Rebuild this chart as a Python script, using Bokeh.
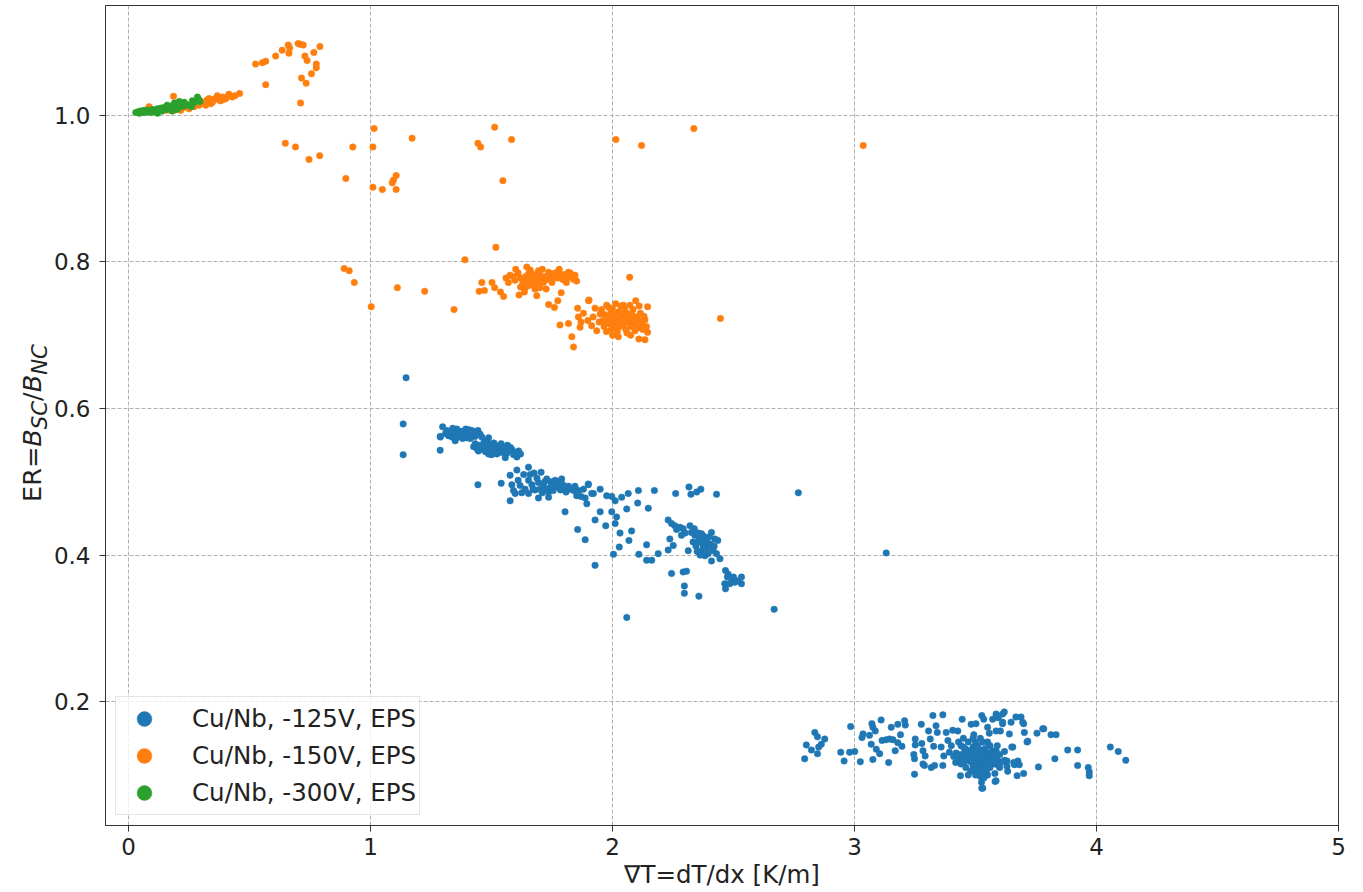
from bokeh.plotting import figure
from bokeh.models import Range1d, Legend, LegendItem, FixedTicker, PrintfTickFormatter, ColumnDataSource, Div
from bokeh.layouts import row
from bokeh.embed import file_html
from bokeh.resources import INLINE

series_labels = ["Cu/Nb, -125V, EPS", "Cu/Nb, -150V, EPS", "Cu/Nb, -300V, EPS"]
series_colors = ["#1f77b4", "#ff7f0e", "#2ca02c"]
x_ticks = [0, 1, 2, 3, 4, 5]
y_ticks = [0.2, 0.4, 0.6, 0.8, 1.0]
x_label = "\u2207T=dT/dx [K/m]"
y_label_html = "ER=<i>B</i><sub><i>SC</i></sub>/<i>B</i><sub><i>NC</i></sub>"

blue_points = [
    # sparse / outliers
    (1.147,0.642),(1.135,0.579),(1.135,0.537),(1.288,0.562),(1.288,0.543),(1.444,0.496),(1.540,0.498),(1.577,0.474),
    (2.768,0.485),(3.131,0.403),(2.668,0.326),(2.059,0.315),(1.928,0.386),(2.004,0.401),(2.109,0.401),(2.141,0.393),
    (2.162,0.393),(2.189,0.402),(2.244,0.375),(2.292,0.377),(2.306,0.378),(2.297,0.358),(2.297,0.348),(2.357,0.344),
    (1.887,0.421),(1.856,0.435),(1.928,0.448),(1.972,0.440),(2.031,0.430),(2.028,0.411),(2.068,0.420),(2.079,0.433),
    (2.141,0.414),(2.261,0.484),(2.316,0.493),(2.324,0.483),(2.365,0.490),(2.430,0.483),(2.173,0.488),(2.107,0.488),
    (2.065,0.484),(2.104,0.471),(2.148,0.464),(2.059,0.463),(1.997,0.459),(1.949,0.459),(1.894,0.470),(1.804,0.459),
    (1.900,0.496),(1.949,0.490),(1.921,0.484),(1.997,0.480),(2.011,0.474),(2.038,0.479),(2.017,0.452),(2.011,0.443),
    (2.348,0.486),
    # cluster ~0.565
    (1.298,0.575),(1.289,0.561),(1.316,0.570),(1.330,0.565),(1.344,0.568),(1.350,0.556),(1.357,0.572),(1.371,0.563),
    (1.378,0.569),(1.394,0.572),(1.403,0.565),(1.412,0.559),(1.419,0.570),(1.444,0.570),(1.453,0.565),(1.488,0.560),
    (1.337,0.561),(1.364,0.561),(1.322,0.563),(1.340,0.573),(1.385,0.566),(1.398,0.560),(1.425,0.566),(1.432,0.562),
    (1.310,0.566),(1.352,0.566),(1.368,0.568),(1.407,0.571),(1.438,0.568),(1.460,0.561),(1.470,0.556),(1.381,0.559),
    # cluster ~0.545
    (1.426,0.548),(1.440,0.545),(1.453,0.550),(1.467,0.544),(1.481,0.547),(1.491,0.552),(1.502,0.544),(1.515,0.550),
    (1.529,0.545),(1.543,0.540),(1.557,0.546),(1.571,0.543),(1.584,0.544),(1.598,0.540),(1.612,0.542),(1.605,0.534),
    (1.557,0.533),(1.522,0.538),(1.488,0.538),(1.446,0.542),(1.433,0.552),(1.460,0.548),(1.474,0.550),(1.495,0.546),
    (1.508,0.541),(1.536,0.548),(1.550,0.541),(1.564,0.539),(1.578,0.547),(1.591,0.537),(1.620,0.538),(1.475,0.541),
    (1.510,0.553),(1.540,0.552),(1.566,0.550),(1.500,0.537),
    # cluster ~0.49
    (1.577,0.509),(1.605,0.516),(1.653,0.520),(1.584,0.496),(1.591,0.488),(1.618,0.495),(1.639,0.490),(1.653,0.502),
    (1.667,0.496),(1.680,0.489),(1.694,0.499),(1.705,0.513),(1.715,0.494),(1.728,0.504),(1.736,0.486),(1.749,0.496),
    (1.763,0.502),(1.777,0.493),(1.790,0.504),(1.801,0.490),(1.818,0.494),(1.839,0.488),(1.736,0.479),(1.694,0.478),
    (1.653,0.484),(1.880,0.490),(1.900,0.497),(1.914,0.484),(1.887,0.478),(1.852,0.481),(1.976,0.481),(1.610,0.502),
    (1.625,0.485),(1.660,0.510),(1.672,0.490),(1.688,0.505),(1.700,0.490),(1.720,0.500),(1.742,0.492),(1.755,0.488),
    (1.770,0.498),(1.785,0.489),(1.795,0.496),(1.808,0.486),(1.825,0.490),(1.845,0.494),(1.860,0.488),(1.745,0.500),
    (1.710,0.485),(1.676,0.512),(1.598,0.484),(1.633,0.510),(1.724,0.490),(1.758,0.495),(1.781,0.500),(1.870,0.480),
    # cluster ~0.42
    (2.230,0.448),(2.244,0.443),(2.258,0.440),(2.279,0.438),(2.292,0.436),(2.320,0.440),(2.285,0.427),(2.326,0.431),
    (2.340,0.427),(2.368,0.429),(2.382,0.424),(2.409,0.431),(2.423,0.422),(2.354,0.418),(2.375,0.413),(2.396,0.411),
    (2.416,0.406),(2.368,0.406),(2.382,0.399),(2.409,0.392),(2.430,0.402),(2.444,0.395),(2.333,0.418),(2.313,0.406),
    (2.237,0.422),(2.230,0.407),(2.251,0.413),(2.360,0.422),(2.390,0.418),(2.400,0.425),(2.345,0.412),(2.370,0.420),
    (2.385,0.408),(2.405,0.415),(2.355,0.430),(2.375,0.426),(2.395,0.402),(2.420,0.412),(2.300,0.430),(2.265,0.435),
    (2.362,0.400),(2.435,0.420),(2.350,0.405),(2.338,0.436),
    # cluster ~0.365
    (2.467,0.379),(2.475,0.370),(2.464,0.361),(2.492,0.368),(2.506,0.363),(2.519,0.365),(2.533,0.370),(2.533,0.361),
    (2.467,0.354),(2.485,0.361),(2.478,0.374),(2.500,0.370),
    # low cluster, spread
    (2.794,0.122),(2.801,0.141),(2.822,0.134),(2.836,0.158),(2.847,0.152),(2.852,0.138),(2.847,0.129),(2.863,0.142),
    (2.877,0.149),(2.943,0.131),(2.957,0.119),(2.980,0.131),(3.001,0.132),(2.984,0.166),(3.024,0.118),(3.031,0.151),
    (3.035,0.156),(3.062,0.154),(3.072,0.170),(3.076,0.165),(3.069,0.142),(3.086,0.160),(3.090,0.135),(3.076,0.121),
    (3.104,0.129),(3.110,0.175),(3.114,0.147),(3.131,0.148),(3.141,0.117),(3.145,0.149),(3.152,0.165),(3.159,0.148),
    (3.168,0.133),(3.179,0.144),(3.179,0.169),(3.190,0.155),(3.196,0.139),(3.207,0.174),(3.210,0.168),(3.245,0.128),
    (3.248,0.101),(3.251,0.149),(3.251,0.141),(3.276,0.169),(3.278,0.143),(3.283,0.133),(3.283,0.115),(3.292,0.126),
    (3.306,0.160),(3.313,0.149),(3.317,0.110),(3.324,0.181),(3.327,0.139),(3.337,0.167),(3.342,0.158),(3.358,0.138),
    (3.365,0.182),(3.365,0.113),(3.369,0.126),(3.379,0.158),(3.386,0.147),(3.392,0.131),(3.406,0.161),(3.418,0.117),
    (3.427,0.160),(3.438,0.099),(3.445,0.176),(3.455,0.136),(3.482,0.169),(3.493,0.155),(3.502,0.170),(3.526,0.181),
    (3.526,0.082),(3.534,0.176),(3.550,0.165),(3.557,0.157),(3.571,0.176),(3.585,0.183),(3.585,0.092),(3.594,0.178),
    (3.603,0.160),(3.612,0.172),(3.619,0.186),(3.630,0.119),(3.633,0.105),(3.640,0.156),(3.647,0.172),(3.650,0.138),
    (3.661,0.114),(3.667,0.179),(3.672,0.099),(3.675,0.119),(3.681,0.114),(3.688,0.179),(3.695,0.172),(3.702,0.158),
    (3.713,0.145),(3.754,0.157),(3.760,0.111),(3.782,0.163),(3.812,0.155),(3.833,0.155),(3.828,0.122),(3.881,0.134),
    (3.922,0.134),(3.922,0.113),(3.966,0.110),(3.970,0.104),(3.970,0.099),(4.057,0.138),(4.090,0.132),(4.121,0.120),
    (3.248,0.122),(3.289,0.113),(3.331,0.113),(3.434,0.124),(3.716,0.146),(3.699,0.102),(3.654,0.138),(3.658,0.117),
    (3.581,0.091),(3.530,0.082),(3.612,0.183),(3.589,0.181),(3.699,0.170),(3.612,0.170),(3.585,0.160),(3.778,0.163),
    # low cluster, dense core
    (3.42,0.130),(3.43,0.120),(3.44,0.140),(3.44,0.115),(3.45,0.128),(3.45,0.150),(3.46,0.110),(3.46,0.135),
    (3.47,0.122),(3.47,0.145),(3.48,0.105),(3.48,0.130),(3.48,0.118),(3.49,0.138),(3.49,0.112),(3.49,0.125),
    (3.50,0.100),(3.50,0.132),(3.50,0.120),(3.50,0.145),(3.51,0.115),(3.51,0.127),(3.51,0.108),(3.51,0.140),
    (3.52,0.122),(3.52,0.134),(3.52,0.098),(3.52,0.113),(3.53,0.128),(3.53,0.118),(3.53,0.145),(3.53,0.105),
    (3.54,0.124),(3.54,0.136),(3.54,0.112),(3.55,0.130),(3.55,0.118),(3.55,0.100),(3.56,0.126),(3.56,0.140),
    (3.56,0.110),(3.57,0.122),(3.57,0.133),(3.58,0.115),(3.58,0.128),(3.59,0.120),(3.59,0.140),(3.60,0.110),
    (3.60,0.128),(3.61,0.118),(3.62,0.132),(3.47,0.100),(3.45,0.138),(3.43,0.145),(3.41,0.125),(3.46,0.120),
    (3.49,0.150),(3.52,0.150),(3.55,0.145),(3.58,0.102),(3.505,0.125),(3.515,0.118),(3.525,0.131),(3.535,0.124),
    (3.495,0.119),(3.485,0.127),(3.475,0.133),(3.545,0.118),(3.565,0.117),(3.575,0.125),(3.505,0.138),(3.515,0.103),
    (3.495,0.108),(3.545,0.105),(3.465,0.127),(3.455,0.118),(3.535,0.096),(3.525,0.090),(3.505,0.112),(3.585,0.133),
    (3.595,0.113),(3.44,0.128),(3.62,0.120),(3.63,0.112),(3.40,0.140),
]

orange_points = [
    # band near the origin
    (0.050,1.005),(0.070,1.006),(0.085,1.012),(0.100,1.007),(0.120,1.006),(0.140,1.008),(0.160,1.007),(0.186,1.026),
    (0.189,1.007),(0.200,1.009),(0.216,1.007),(0.230,1.011),(0.243,1.014),(0.250,1.009),(0.260,1.013),(0.271,1.012),
    (0.280,1.016),(0.292,1.014),(0.300,1.019),(0.312,1.018),(0.319,1.014),(0.325,1.021),(0.333,1.023),(0.340,1.016),
    (0.347,1.018),(0.355,1.022),(0.360,1.023),(0.367,1.027),(0.375,1.021),(0.381,1.020),(0.388,1.025),(0.395,1.022),
    (0.402,1.023),(0.410,1.026),(0.415,1.029),(0.429,1.025),(0.440,1.027),(0.459,1.030),(0.220,1.013),(0.270,1.018),
    # arc above 1
    (0.525,1.070),(0.553,1.072),(0.567,1.074),(0.567,1.042),(0.608,1.081),(0.635,1.089),(0.660,1.096),(0.666,1.092),
    (0.663,1.085),(0.701,1.098),(0.711,1.097),(0.722,1.096),(0.729,1.081),(0.738,1.075),(0.766,1.086),(0.791,1.094),
    (0.776,1.070),(0.776,1.065),(0.756,1.057),(0.715,1.051),(0.734,1.044),(0.711,1.017),
    # sparse
    (0.648,0.962),(0.690,0.957),(0.746,0.940),(0.790,0.945),(0.927,0.957),(1.015,0.982),(1.010,0.957),(1.172,0.969),
    (0.898,0.914),(1.010,0.902),(1.049,0.899),(1.090,0.908),(1.106,0.918),(1.106,0.899),(1.095,0.912),(1.444,0.962),
    (1.455,0.957),(1.513,0.984),(1.583,0.967),(1.547,0.911),(2.014,0.967),(2.120,0.959),(2.336,0.982),(3.036,0.959),
    (1.518,0.820),(1.390,0.803),(0.891,0.791),(0.912,0.788),(0.933,0.772),(1.111,0.765),(1.224,0.760),(1.003,0.739),
    (1.345,0.735),(2.071,0.779),(2.446,0.723),
    # cluster ~0.78
    (1.460,0.772),(1.471,0.761),(1.449,0.760),(1.502,0.772),(1.513,0.765),(1.537,0.759),(1.550,0.753),(1.577,0.782),
    (1.570,0.772),(1.597,0.775),(1.614,0.755),(1.636,0.759),(1.646,0.793),(1.653,0.784),(1.667,0.770),(1.680,0.763),
    (1.687,0.754),(1.694,0.788),(1.705,0.777),(1.726,0.763),(1.736,0.786),(1.763,0.779),(1.770,0.786),(1.790,0.782),
    (1.804,0.775),(1.818,0.786),(1.832,0.779),(1.852,0.774),(1.788,0.758),(1.774,0.747),(1.736,0.742),(1.760,0.738),
    (1.590,0.780),(1.610,0.785),(1.620,0.778),(1.630,0.772),(1.640,0.780),(1.650,0.776),(1.660,0.789),(1.665,0.778),
    (1.675,0.783),(1.685,0.776),(1.690,0.770),(1.700,0.782),(1.710,0.790),(1.715,0.772),(1.720,0.780),(1.730,0.776),
    (1.745,0.780),(1.750,0.772),(1.755,0.784),(1.775,0.778),(1.780,0.790),(1.795,0.776),(1.800,0.783),(1.810,0.772),
    (1.815,0.779),(1.825,0.785),(1.840,0.776),(1.845,0.782),(1.620,0.766),(1.655,0.768),(1.600,0.790),(1.560,0.778),
    (1.700,0.765),(1.640,0.765),
    # cluster ~0.72
    (1.783,0.714),(1.818,0.716),(1.832,0.698),(1.839,0.684),(1.856,0.737),(1.859,0.725),(1.866,0.711),(1.901,0.747),
    (1.898,0.720),(1.914,0.713),(1.928,0.737),(1.935,0.706),(1.949,0.729),(1.976,0.741),(2.013,0.743),(2.045,0.741),
    (2.072,0.741),(2.096,0.747),(2.145,0.739),(2.134,0.721),(2.145,0.704),(2.134,0.694),(2.109,0.695),(2.093,0.706),
    (2.024,0.698),(1.990,0.706),(1.903,0.748),
    (1.960,0.720),(1.965,0.712),(1.970,0.728),(1.980,0.718),(1.985,0.725),(1.990,0.715),(1.995,0.732),(2.000,0.720),
    (2.005,0.710),(2.010,0.727),(2.015,0.716),(2.020,0.722),(2.025,0.732),(2.030,0.712),(2.035,0.720),(2.040,0.727),
    (2.045,0.715),(2.050,0.722),(2.055,0.708),(2.060,0.730),(2.065,0.718),(2.070,0.724),(2.075,0.712),(2.080,0.728),
    (2.085,0.720),(2.090,0.715),(2.100,0.725),(2.105,0.710),(2.110,0.720),(2.115,0.730),(2.120,0.715),(2.125,0.708),
    (2.130,0.726),(1.955,0.735),(1.975,0.705),(2.000,0.736),(2.050,0.735),(2.085,0.735),(2.060,0.703),(2.020,0.705),
    (1.945,0.718),(1.920,0.725),(1.880,0.730),(2.140,0.712),(2.000,0.700),(2.035,0.740),(1.985,0.738),(2.110,0.740),
    (2.075,0.700),(1.870,0.718),
]

green_points = [
    (0.030,1.004),(0.040,1.005),(0.045,1.003),(0.050,1.006),(0.055,1.004),(0.060,1.005),(0.065,1.007),(0.070,1.004),
    (0.075,1.006),(0.080,1.005),(0.085,1.007),(0.090,1.006),(0.095,1.004),(0.100,1.008),(0.105,1.006),(0.110,1.007),
    (0.115,1.005),(0.120,1.009),(0.125,1.007),(0.130,1.008),(0.135,1.010),(0.140,1.006),(0.145,1.009),(0.150,1.011),
    (0.155,1.008),(0.160,1.010),(0.165,1.012),(0.170,1.009),(0.175,1.011),(0.180,1.013),(0.185,1.010),(0.190,1.012),
    (0.195,1.014),(0.200,1.011),(0.205,1.013),(0.210,1.015),(0.215,1.012),(0.220,1.014),(0.225,1.016),(0.230,1.013),
    (0.240,1.015),(0.250,1.014),(0.260,1.012),(0.264,1.020),(0.270,1.017),(0.280,1.020),(0.285,1.025),(0.290,1.022),
    (0.295,1.019),(0.180,1.006),(0.200,1.008),(0.120,1.003),(0.160,1.014),(0.190,1.017),(0.210,1.019),(0.230,1.018),
]

LABEL_W = 50
p = figure(width=1363 - LABEL_W, height=892,
           x_range=Range1d(-0.095, 5.0), y_range=Range1d(0.031, 1.15),
           output_backend="svg", toolbar_location=None,
           min_border_left=53, min_border_right=25, min_border_top=5, min_border_bottom=67)

renderers = []
for pts, color in zip([blue_points, orange_points, green_points], series_colors):
    src = ColumnDataSource(dict(x=[a for a, b in pts], y=[b for a, b in pts]))
    r = p.scatter("x", "y", source=src, size=6.5, fill_color=color, line_color=color, line_width=0.5)
    renderers.append(r)

legend = Legend(items=[LegendItem(label=l, renderers=[r]) for l, r in zip(series_labels, renderers)],
                location="bottom_left", glyph_width=50, glyph_height=37, label_height=30,
                spacing=0, padding=3, label_standoff=23, margin=10,
                label_text_font="DejaVu Sans", label_text_font_size="24.5px", label_text_color="#222222",
                border_line_color="#cccccc", border_line_width=1, background_fill_alpha=0.8)
p.add_layout(legend)

p.xaxis.ticker = FixedTicker(ticks=x_ticks)
p.yaxis.ticker = FixedTicker(ticks=y_ticks)
p.yaxis.formatter = PrintfTickFormatter(format="%.1f")
for ax in [p.xaxis, p.yaxis]:
    ax.major_label_text_font = "DejaVu Sans"
    ax.major_label_text_font_size = "23px"
    ax.major_label_text_color = "#222222"
    ax.major_tick_out = 6
    ax.major_tick_in = 0
    ax.minor_tick_line_color = None
    ax.axis_line_color = "#333333"
    ax.major_tick_line_color = "#333333"
p.xaxis.axis_label = x_label
p.xaxis.axis_label_text_font = "DejaVu Sans"
p.xaxis.axis_label_text_font_style = "normal"
p.xaxis.axis_label_text_font_size = "24.5px"
p.xaxis.axis_label_text_color = "#222222"
p.xaxis.axis_label_standoff = 2
p.xaxis.major_label_standoff = 6
p.yaxis.major_label_standoff = 9

p.outline_line_color = "#333333"
p.outline_line_width = 1
p.grid.grid_line_color = "#b0b0b0"
p.grid.grid_line_dash = "4 2"
p.grid.grid_line_width = 1

ylabel_div = Div(
    width=LABEL_W, height=892, margin=0,
    text=('<div style="position:relative;width:%dpx;height:892px;">'
          '<div style="position:absolute;left:-78px;top:408px;width:220px;height:30px;line-height:30px;'
          'text-align:center;transform:rotate(-90deg);white-space:nowrap;font-family:\'DejaVu Sans\';'
          'font-size:25.5px;color:#222222;">%s</div></div>') % (LABEL_W, y_label_html),
)

layout = row(ylabel_div, p)
open("out.html", "w").write(file_html(layout, INLINE))
